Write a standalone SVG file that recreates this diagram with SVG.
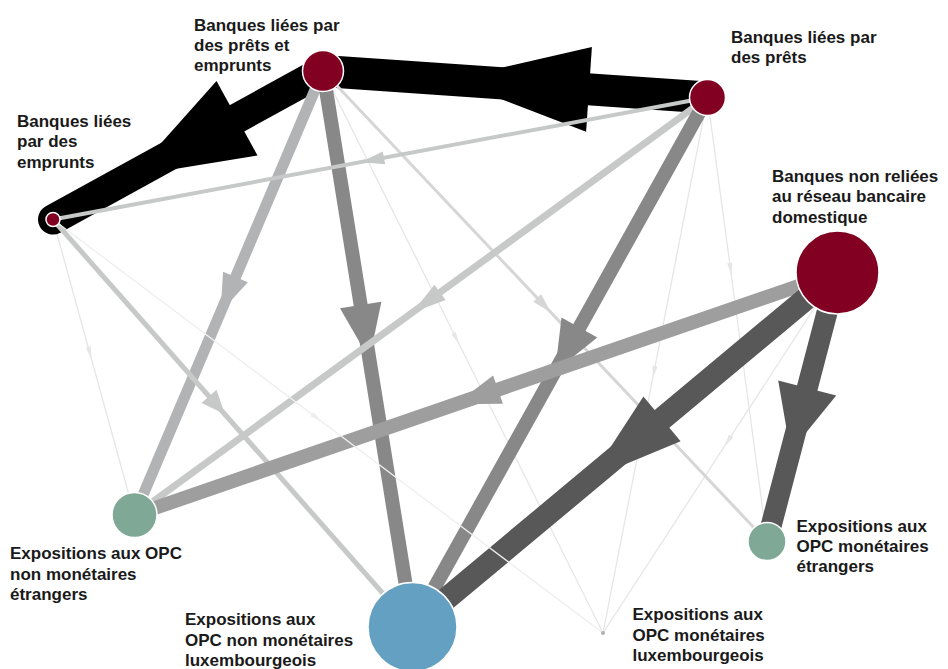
<svg xmlns="http://www.w3.org/2000/svg" width="948" height="669" viewBox="0 0 948 669">
<style>
.lbl{font-family:"Liberation Sans","Arial",sans-serif;font-weight:bold;font-size:17px;fill:#1a1a1a}
.bank{fill:#820021;stroke:#ffffff;stroke-width:1.5}
.green{fill:#7fa896;stroke:#ffffff;stroke-width:1.5}
.blue{fill:#64a0c2;stroke:#ffffff;stroke-width:1.5}
line{stroke-linecap:round}
.k0 line{stroke:#000000}.k0 polygon{fill:#000000}
.k1 line{stroke:#585858}.k1 polygon{fill:#585858}
.k2 line{stroke:#888888}.k2 polygon{fill:#888888}
.k3 line{stroke:#9d9e9d}.k3 polygon{fill:#9d9e9d}
.k4 line{stroke:#b2b3b4}.k4 polygon{fill:#b2b3b4}
.k5 line{stroke:#c7c9c8}.k5 polygon{fill:#c7c9c8}
.k6 line{stroke:#d6d6d6}.k6 polygon{fill:#d6d6d6}
.k7 line{stroke:#e6e6e6}.k7 polygon{fill:#e6e6e6}
.k8 line{stroke:#eeeeee}.k8 polygon{fill:#eeeeee}
</style>
<g id="connectors">
  <g id="e-A-H" class="k7"><line x1="323" y1="71" x2="603" y2="633" stroke-width="1.3"/><polygon points="451.3,334.1 455.7,331.9 459.3,344.6"/></g>
  <g id="e-B-G" class="k7"><line x1="707.5" y1="97.5" x2="767" y2="541.5" stroke-width="1.3"/><polygon points="727.2,263.3 732.2,262.7 731.4,275.9"/></g>
  <g id="e-B-H" class="k7"><line x1="707.5" y1="97.5" x2="603" y2="633" stroke-width="1.3"/><polygon points="652.6,365.5 657.6,366.5 652.6,378.8"/></g>
  <g id="e-D-H" class="k7"><line x1="837.5" y1="272.5" x2="603" y2="633" stroke-width="1.3"/><polygon points="729,434.6 733.2,437.4 724,446.9"/></g>
  <g id="e-C-E" class="k7"><line x1="53" y1="219.5" x2="134.5" y2="515" stroke-width="1.3"/><polygon points="85.8,347.7 90.6,346.3 91.7,359.5"/></g>
  <g id="e-B-A" class="k0"><line x1="707.5" y1="97.5" x2="323" y2="71" stroke-width="32"/><polygon points="591.9,46.9 586.1,131.7 450.3,79.7"/></g>
  <g id="e-A-C" class="k0"><line x1="323" y1="71" x2="53" y2="219.5" stroke-width="30"/><polygon points="216.5,81.1 257.5,155.5 131.8,176.1"/></g>
  <g id="e-A-E" class="k4"><line x1="323" y1="71" x2="134.5" y2="515" stroke-width="11"/><polygon points="223.1,271.7 247.9,282.3 220.6,312"/></g>
  <g id="e-A-F" class="k2"><line x1="323" y1="71" x2="412.5" y2="627" stroke-width="14"/><polygon points="340,308.3 381.4,301.7 369.4,359.3"/></g>
  <g id="e-A-G" class="k6"><line x1="323" y1="71" x2="767" y2="541.5" stroke-width="3"/><polygon points="533.2,301.8 541.2,294.2 550.9,312.5"/></g>
  <g id="e-B-C" class="k5"><line x1="707.5" y1="97.5" x2="53" y2="219.5" stroke-width="4"/><polygon points="382.8,151.4 385.2,164.2 360.4,162.2"/></g>
  <g id="e-B-E" class="k5"><line x1="707.5" y1="97.5" x2="134.5" y2="515" stroke-width="7"/><polygon points="434.4,284.7 445.6,300.1 412.5,312.4"/></g>
  <g id="e-B-F" class="k2"><line x1="707.5" y1="97.5" x2="412.5" y2="627" stroke-width="14"/><polygon points="561.5,317.5 597.3,337.5 555.1,371.2"/></g>
  <g id="e-C-F" class="k5"><line x1="53" y1="219.5" x2="412.5" y2="627" stroke-width="5"/><polygon points="201.5,402.9 216.5,389.7 224.9,414.3"/></g>
  <g id="e-D-E" class="k3"><line x1="837.5" y1="272.5" x2="134.5" y2="515" stroke-width="14"/><polygon points="493.1,375.4 502.9,403.8 455.5,404.3"/></g>
  <g id="e-D-F" class="k1"><line x1="837.5" y1="272.5" x2="412.5" y2="627" stroke-width="23"/><polygon points="643.4,396.6 680.6,441.2 589.8,479.1"/></g>
  <g id="e-D-G" class="k1"><line x1="837.5" y1="272.5" x2="767" y2="541.5" stroke-width="21"/><polygon points="778.2,380.4 836.2,395.6 790.5,451.8"/></g>
  <g id="e-C-H" class="k8"><line x1="53" y1="219.5" x2="603" y2="633" stroke-width="1.3"/><polygon points="310.5,416.2 313.5,412.2 322.4,422"/></g>
</g>
<g id="node-A">
  <circle class="bank" cx="323" cy="71" r="20.5"/>
  <text class="lbl"><tspan x="194" y="30.7">Banques liées par</tspan><tspan x="194" y="51">des prêts et</tspan><tspan x="194" y="71.3">emprunts</tspan></text>
</g>
<g id="node-B">
  <circle class="bank" cx="707.5" cy="97.5" r="18"/>
  <text class="lbl"><tspan x="731" y="42.7">Banques liées par</tspan><tspan x="731" y="63">des prêts</tspan></text>
</g>
<g id="node-C">
  <circle class="bank" cx="53" cy="219.5" r="7"/>
  <text class="lbl"><tspan x="17" y="127">Banques liées</tspan><tspan x="17" y="147.3">par des</tspan><tspan x="17" y="167.6">emprunts</tspan></text>
</g>
<g id="node-D">
  <circle class="bank" cx="837.5" cy="272.5" r="41.5"/>
  <text class="lbl"><tspan x="772" y="182">Banques non reliées</tspan><tspan x="772" y="202.3">au réseau bancaire</tspan><tspan x="772" y="222.6">domestique</tspan></text>
</g>
<g id="node-E">
  <circle class="green" cx="134.5" cy="515" r="22.5"/>
  <text class="lbl"><tspan x="10" y="559.3">Expositions aux OPC</tspan><tspan x="10" y="579.6">non monétaires</tspan><tspan x="10" y="600">étrangers</tspan></text>
</g>
<g id="node-F">
  <circle class="blue" cx="412.5" cy="627" r="44.5"/>
  <text class="lbl"><tspan x="185" y="625">Expositions aux</tspan><tspan x="185" y="645.5">OPC non monétaires</tspan><tspan x="185" y="666">luxembourgeois</tspan></text>
</g>
<g id="node-G">
  <circle class="green" cx="767" cy="541.5" r="19"/>
  <text class="lbl"><tspan x="796.5" y="531.7">Expositions aux</tspan><tspan x="796.5" y="552">OPC monétaires</tspan><tspan x="796.5" y="572.4">étrangers</tspan></text>
</g>
<g id="node-H">
  <circle cx="603" cy="633" r="2" fill="#b0b0b0"/>
  <text class="lbl"><tspan x="632.5" y="620">Expositions aux</tspan><tspan x="632.5" y="640.5">OPC monétaires</tspan><tspan x="632.5" y="661">luxembourgeois</tspan></text>
</g>
</svg>
